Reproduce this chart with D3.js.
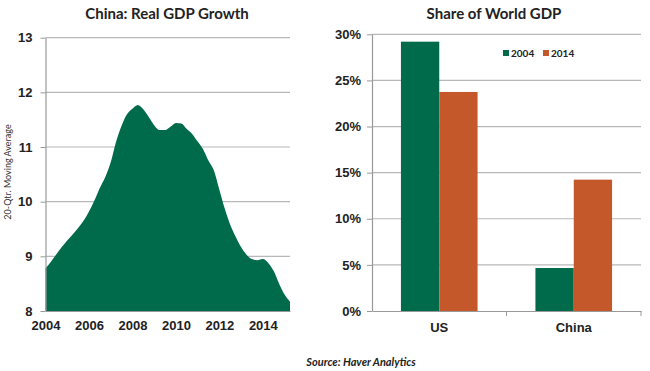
<!DOCTYPE html>
<html><head><meta charset="utf-8">
<script src="https://cdn.jsdelivr.net/npm/d3@7"></script>
<style>
body{margin:0;background:#fff;}
svg{display:block;font-family:Lato, "Open Sans", sans-serif;}
</style></head>
<body><svg id="c" width="650" height="371"></svg>
<script>
// Left chart: China real GDP growth, 20-qtr moving average, quarterly from 2004Q1
const gdpStartYear = 2004;
const gdpGrowth = [8.78,8.90,9.04,9.17,9.29,9.40,9.52,9.65,9.82,10.02,10.25,10.45,10.72,11.10,11.39,11.60,
  11.70,11.77,11.69,11.55,11.40,11.31,11.31,11.37,11.44,11.43,11.33,11.24,11.10,10.96,10.75,10.57,
  10.22,9.87,9.58,9.36,9.17,9.03,8.95,8.93,8.95,8.88,8.73,8.50,8.30,8.17];
const yearTicks = [2004,2006,2008,2010,2012,2014];
const growthTicks = [8,9,10,11,12,13];

// Right chart: share of world GDP
const countries = ["US","China"];
const years = ["2004","2014"];
const share2004 = [29.2,4.66];
const share2014 = [23.75,14.24];
const shareTicks = [0,5,10,15,20,25,30];

const green = "#006B4B", orange = "#C5582A", grid = "#b8b8b8", axisCol = "#999";
const svg = d3.select("#c");

// ---------- Left chart ----------
const L = {x0:45.5, x1:290, y0:311, y1:37.7};
const xL = d3.scaleLinear().domain([2004, 2015.25]).range([L.x0, L.x1]);
const yL = d3.scaleLinear().domain([8,13]).range([L.y0, L.y1]);
const gl = svg.append("g");
gl.selectAll("line.g").data(growthTicks.slice(1)).join("line")
  .attr("x1",L.x0).attr("x2",L.x1).attr("y1",d=>yL(d)).attr("y2",d=>yL(d))
  .attr("stroke",grid).attr("stroke-width",1.2);
const pts = gdpGrowth.map((v,i)=>({t:gdpStartYear+i/4, v}));
gl.append("path").datum(pts)
  .attr("d", d3.area().x(d=>xL(d.t)).y0(yL(8)).y1(d=>yL(d.v)).curve(d3.curveMonotoneX))
  .attr("fill",green);
const ayL = gl.append("g").attr("transform",`translate(${L.x0},0)`)
  .call(d3.axisLeft(yL).tickValues(growthTicks).tickFormat(d3.format("d")).tickSize(5).tickSizeOuter(0).tickPadding(8));
const axL = gl.append("g").attr("transform",`translate(0,${L.y0})`)
  .call(d3.axisBottom(xL).tickValues(yearTicks).tickFormat(d3.format("d")).tickSize(0).tickSizeOuter(0).tickPadding(10));
[ayL,axL].forEach(a=>{
  a.select(".domain").attr("stroke",axisCol).attr("stroke-width",1.2);
  a.selectAll(".tick line").attr("stroke",axisCol);
  a.selectAll("text").attr("font-size",13).attr("font-weight","bold").attr("fill","#222");
});
gl.append("text").attr("transform","translate(11,172) rotate(-90)").attr("text-anchor","middle")
  .attr("font-size",9).attr("fill","#333").text("20-Qtr. Moving Average");
gl.append("text").attr("x",167).attr("y",19).attr("text-anchor","middle")
  .attr("font-size",15).attr("font-weight","bold").attr("fill","#222").text("China: Real GDP Growth");

// ---------- Right chart ----------
const R = {x0:372, x1:641, y0:311, y1:34.3};
const xR = d3.scaleBand().domain(countries).range([R.x0,R.x1]).paddingInner(0).paddingOuter(0);
const xSub = d3.scaleBand().domain(years).range([0,xR.bandwidth()]).paddingInner(0).paddingOuter(0.755);
const yR = d3.scaleLinear().domain([0,30]).range([R.y0,R.y1]);
const gr = svg.append("g");
gr.selectAll("line.g").data(shareTicks.slice(1)).join("line")
  .attr("x1",R.x0).attr("x2",R.x1).attr("y1",d=>yR(d)).attr("y2",d=>yR(d))
  .attr("stroke",grid).attr("stroke-width",1.2);
const rows = countries.map((c,i)=>({c, vals:[{y:"2004",v:share2004[i]},{y:"2014",v:share2014[i]}]}));
const color = d3.scaleOrdinal().domain(years).range([green,orange]);
gr.selectAll("g.grp").data(rows).join("g").attr("transform",d=>`translate(${xR(d.c)},0)`)
  .selectAll("rect").data(d=>d.vals).join("rect")
  .attr("x",d=>xSub(d.y)).attr("width",xSub.bandwidth())
  .attr("y",d=>yR(d.v)).attr("height",d=>yR(0)-yR(d.v)).attr("fill",d=>color(d.y));
const ayR = gr.append("g").attr("transform",`translate(${R.x0},0)`)
  .call(d3.axisLeft(yR).tickValues(shareTicks).tickFormat(d=>d+"%").tickSize(5).tickSizeOuter(0).tickPadding(6));
const axR = gr.append("g").attr("transform",`translate(0,${R.y0})`)
  .call(d3.axisBottom(xR).tickSize(0).tickSizeOuter(0).tickPadding(12));
// category divider ticks
gr.selectAll("line.div").data([xR("China"), R.x1]).join("line")
  .attr("x1",d=>d).attr("x2",d=>d).attr("y1",R.y0).attr("y2",R.y0+5).attr("stroke",axisCol);
[ayR,axR].forEach(a=>{
  a.select(".domain").attr("stroke",axisCol).attr("stroke-width",1.2);
  a.selectAll(".tick line").attr("stroke",axisCol);
  a.selectAll("text").attr("font-size",13).attr("font-weight","bold").attr("fill","#222");
});
gr.append("text").attr("x",494).attr("y",19).attr("text-anchor","middle")
  .attr("font-size",15).attr("font-weight","bold").attr("fill","#222").text("Share of World GDP");
// legend
const lg = gr.selectAll("g.lg").data(years).join("g")
  .attr("transform",(d,i)=>`translate(${503+i*40},50)`);
lg.append("rect").attr("width",6).attr("height",6).attr("fill",d=>color(d));
lg.append("text").attr("x",8).attr("y",6.5).attr("font-size",10).attr("font-weight","bold").attr("fill","#222").text(d=>d);

// source
svg.append("text").attr("x",361).attr("y",366).attr("text-anchor","middle")
  .attr("font-size",11).attr("font-weight","bold").attr("font-style","italic").attr("fill","#222")
  .text("Source: Haver Analytics");
</script></body></html>
